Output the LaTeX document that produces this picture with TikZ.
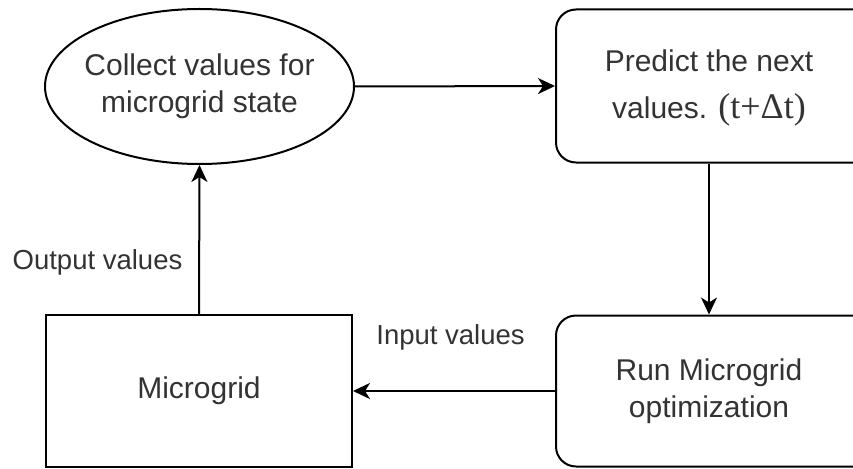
\documentclass[tikz,border=0pt]{standalone}
\usepackage{fontspec}
\setmainfont{Liberation Sans}
\newfontfamily\serifpart{Liberation Serif}
\usetikzlibrary{shapes.geometric,arrows.meta}
\definecolor{txt}{HTML}{333333}
\tikzset{
  every node/.style={text=txt, font=\fontsize{30}{37}\selectfont},
  box/.style={draw=black, line width=2pt, minimum width=306pt, inner sep=0pt, align=center},
  rbox/.style={draw=black, line width=2pt, rounded corners=20pt, minimum width=344pt, inner sep=0pt},
  oval/.style={draw=black, line width=2pt, ellipse, minimum width=309pt, minimum height=155pt, inner sep=0pt},
  caption/.style={align=center, inner sep=0pt},
  lbl/.style={font=\fontsize{27.5}{33}\selectfont, inner sep=0pt},
  arr/.style={draw=black, line width=2pt, -{Stealth[length=17pt,width=16pt,inset=5pt]}}
}
\begin{document}
\begin{tikzpicture}[x=1pt,y=-1pt]
  \useasboundingbox (0,0) rectangle (853,468);
  \clip (0,0) rectangle (853,468);
  \fill[white] (0,0) rectangle (853,468);

  % shapes
  \node[oval] (col) at (199.5,86.5) {};
  \node[rbox, minimum height=153pt] (pred) at (728,86) {};
  \node[rbox, minimum height=151pt] (opt) at (728,391) {};
  \node[box, minimum height=152pt] (mg) at (199,391) {Microgrid};

  % texts of the shapes
  \node[caption] (coltxt) at (199.5,86.5) {Collect values for\\microgrid state};
  \node[caption] (predtxt) at (709,88) {Predict the next\\[10pt]values. {\serifpart\fontsize{36}{40}\selectfont (t+Δt)}};
  \node[caption] (opttxt) at (709,391) {Run Microgrid\\optimization};

  % flow
  \draw[arr] (col.east) -- (pred.west);
  \draw[arr] (predtxt |- pred.south) -- (predtxt |- opt.north);
  \draw[arr] (opt.west) -- (mg.east);
  \draw[arr] (mg.north) -- (col.south);

  % edge labels
  \node[lbl] (outlbl) at (97.5,262) {Output values};
  \node[lbl] (inlbl) at (450.5,337) {Input values};
\end{tikzpicture}
\end{document}
